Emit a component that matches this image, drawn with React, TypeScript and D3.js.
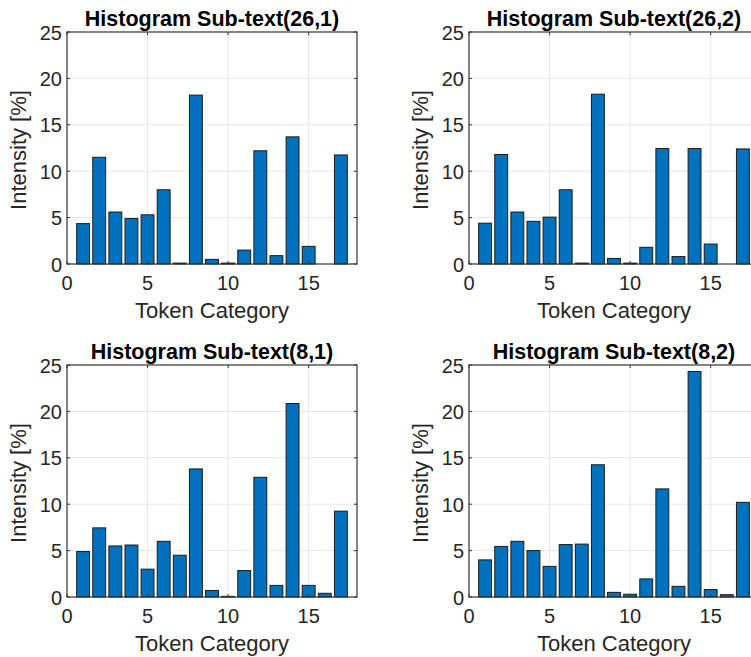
import React, { useRef, useEffect } from 'react';
import * as d3 from 'd3';

// token categories 1..17
const categories = d3.range(1, 18);

const titles = [
  'Histogram Sub-text(26,1)',
  'Histogram Sub-text(26,2)',
  'Histogram Sub-text(8,1)',
  'Histogram Sub-text(8,2)',
];

const sub26_1 = [4.35, 11.5, 5.6, 4.9, 5.3, 8.0, 0.1, 18.2, 0.5, 0.1, 1.5, 12.2, 0.9, 13.7, 1.9, 0, 11.75];
const sub26_2 = [4.4, 11.8, 5.6, 4.6, 5.05, 8.0, 0.1, 18.3, 0.6, 0.1, 1.8, 12.45, 0.8, 12.45, 2.15, 0, 12.4];
const sub8_1 = [4.9, 7.45, 5.5, 5.6, 3.0, 6.0, 4.5, 13.8, 0.7, 0.07, 2.85, 12.9, 1.25, 20.85, 1.25, 0.4, 9.25];
const sub8_2 = [4.0, 5.45, 6.0, 5.0, 3.3, 5.65, 5.7, 14.25, 0.5, 0.3, 1.95, 11.65, 1.15, 24.3, 0.8, 0.25, 10.2];

const xTicks = [0, 5, 10, 15];
const yTicks = [0, 5, 10, 15, 20, 25];

const series = [sub26_1, sub26_2, sub8_1, sub8_2];

export default function App() {
  const ref = useRef<SVGSVGElement>(null);

  useEffect(() => {
    if (!ref.current) return;
    document.body.style.margin = '0';
    document.body.style.overflow = 'hidden';

    const svg = d3.select(ref.current);
    svg.selectAll('*').remove();

    const font = 'Liberation Sans, Arial, Helvetica, sans-serif';
    const boxW = 290;
    const boxH = 232;
    const origins = [
      { x: 67, y: 32 },
      { x: 469, y: 32 },
      { x: 67, y: 365 },
      { x: 469, y: 365 },
    ];

    series.forEach((values, i) => {
      const o = origins[i];
      const g = svg.append('g').attr('transform', `translate(${o.x},${o.y})`);

      const x = d3.scaleLinear().domain([0, 18]).range([0, boxW]);
      const y = d3.scaleLinear().domain([0, 25]).range([boxH, 0]);

      // grid
      g.selectAll('.gx')
        .data(xTicks.filter(t => t > 0))
        .enter()
        .append('line')
        .attr('x1', d => x(d)).attr('x2', d => x(d))
        .attr('y1', 0).attr('y2', boxH)
        .attr('stroke', '#e6e6e6')
        .attr('stroke-width', 1);

      g.selectAll('.gy')
        .data(yTicks.filter(t => t > 0 && t < 25))
        .enter()
        .append('line')
        .attr('x1', 0).attr('x2', boxW)
        .attr('y1', d => y(d)).attr('y2', d => y(d))
        .attr('stroke', '#e6e6e6')
        .attr('stroke-width', 1);

      // bars
      const bw = x(0.8) - x(0);
      g.selectAll('.bar')
        .data(values)
        .enter()
        .append('rect')
        .attr('x', (_, j) => x(categories[j]) - bw / 2)
        .attr('y', d => y(d))
        .attr('width', bw)
        .attr('height', d => boxH - y(d))
        .attr('fill', '#0072BD')
        .attr('stroke', '#1a1a1a')
        .attr('stroke-width', 1);

      // axes box
      g.append('rect')
        .attr('x', 0).attr('y', 0)
        .attr('width', boxW).attr('height', boxH)
        .attr('fill', 'none')
        .attr('stroke', '#333')
        .attr('stroke-width', 1.2);

      // tick marks (inside)
      xTicks.forEach(t => {
        g.append('line').attr('x1', x(t)).attr('x2', x(t)).attr('y1', boxH).attr('y2', boxH - 3)
          .attr('stroke', '#333');
        g.append('line').attr('x1', x(t)).attr('x2', x(t)).attr('y1', 0).attr('y2', 3)
          .attr('stroke', '#333');
      });
      yTicks.forEach(t => {
        g.append('line').attr('x1', 0).attr('x2', 3).attr('y1', y(t)).attr('y2', y(t))
          .attr('stroke', '#333');
        g.append('line').attr('x1', boxW).attr('x2', boxW - 3).attr('y1', y(t)).attr('y2', y(t))
          .attr('stroke', '#333');
      });

      // tick labels
      g.selectAll('.xl')
        .data(xTicks)
        .enter()
        .append('text')
        .attr('x', d => x(d))
        .attr('y', boxH + 26)
        .attr('text-anchor', 'middle')
        .attr('font-family', font)
        .attr('font-size', 20)
        .attr('fill', '#262626')
        .text(d => d);

      g.selectAll('.yl')
        .data(yTicks)
        .enter()
        .append('text')
        .attr('x', -5)
        .attr('y', d => y(d) + 7.5)
        .attr('text-anchor', 'end')
        .attr('font-family', font)
        .attr('font-size', 20)
        .attr('fill', '#262626')
        .text(d => d);

      // axis labels
      g.append('text')
        .attr('x', boxW / 2)
        .attr('y', boxH + 54)
        .attr('text-anchor', 'middle')
        .attr('font-family', font)
        .attr('font-size', 22)
        .attr('fill', '#262626')
        .text('Token Category');

      g.append('text')
        .attr('transform', `translate(-41,${boxH / 2 + 2}) rotate(-90)`)
        .attr('text-anchor', 'middle')
        .attr('font-family', font)
        .attr('font-size', 22)
        .attr('fill', '#262626')
        .text('Intensity [%]');

      // title
      g.append('text')
        .attr('x', boxW / 2)
        .attr('y', -6)
        .attr('text-anchor', 'middle')
        .attr('font-family', font)
        .attr('font-size', 21.5)
        .attr('font-weight', 'bold')
        .attr('fill', '#000')
        .text(titles[i]);
    });
  }, []);

  return (
    <svg ref={ref} width={751} height={657} style={{ display: 'block', background: '#fff' }} />
  );
}
